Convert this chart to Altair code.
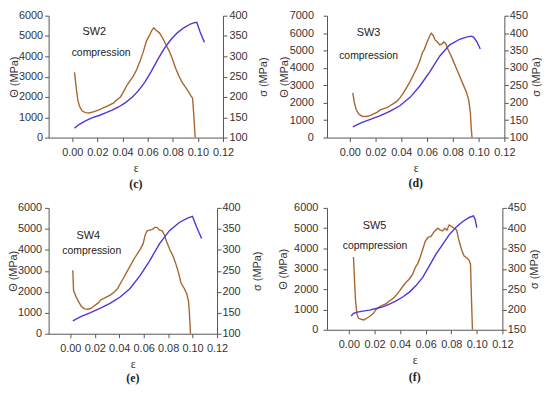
import altair as alt
import pandas as pd

BROWN = "#A8672F"
BLUE = "#4F34D8"
FONT = "Liberation Sans"

X_TICKS = [0.0, 0.02, 0.04, 0.06, 0.08, 0.10, 0.12]

# ---- (c) SW2 ----
c_theta_eps = [0.0018, 0.0031, 0.0044, 0.0057, 0.0078, 0.0104, 0.0135, 0.0174, 0.0213, 0.0252,
               0.0291, 0.033, 0.0356, 0.0382, 0.0408, 0.0434, 0.046, 0.0486, 0.0512, 0.0538,
               0.0564, 0.059, 0.0616, 0.0634, 0.0649, 0.0668, 0.0694, 0.072, 0.0745, 0.0771,
               0.0797, 0.0823, 0.0849, 0.0875, 0.0901, 0.0927, 0.0945, 0.0958, 0.0966, 0.0974, 0.0979]
c_theta = [3215, 2485, 1864, 1553, 1320, 1227, 1211, 1273, 1367, 1475,
           1584, 1708, 1864, 1988, 2252, 2562, 2795, 3028, 3339, 3727,
           4193, 4737, 5047, 5280, 5404, 5280, 5156, 4892, 4581, 4271,
           3883, 3417, 3028, 2718, 2485, 2252, 2050, 1941, 1242, 466, 0]
c_sigma_eps = [0.0018, 0.0057, 0.0109, 0.0161, 0.0213, 0.0265, 0.0317, 0.0369, 0.0421, 0.0473,
               0.0525, 0.0577, 0.0629, 0.068, 0.0732, 0.0784, 0.0836, 0.0888, 0.094, 0.0979,
               0.0992, 0.1018, 0.1052]
c_sigma = [123.3, 132.6, 141.9, 148.9, 154.3, 160.6, 167.5, 175.3, 185.4, 197.8,
           214.9, 235.9, 263, 291.8, 318.9, 340.7, 357.8, 370.2, 379.5, 383.4,
           383.4, 360, 334.5]

# ---- (d) SW3 ----
d_theta_eps = [0.0023, 0.0036, 0.0049, 0.0069, 0.0095, 0.0129, 0.0159, 0.0185, 0.0211, 0.0237,
               0.0262, 0.0288, 0.0314, 0.0339, 0.0365, 0.0391, 0.0416, 0.0442, 0.0468, 0.0494,
               0.0519, 0.0545, 0.0563, 0.0578, 0.0596, 0.0617, 0.0632, 0.0648, 0.0663, 0.0679,
               0.0699, 0.0717, 0.073, 0.0746, 0.0763, 0.0784, 0.0807, 0.0828, 0.0853, 0.0879,
               0.0905, 0.0923, 0.0936, 0.0943, 0.0949]
d_theta = [2563, 1986, 1625, 1354, 1227, 1209, 1264, 1354, 1444, 1588,
           1661, 1715, 1841, 1949, 2076, 2292, 2563, 2888, 3213, 3610,
           3971, 4422, 4874, 5054, 5415, 5776, 5993, 5866, 5596, 5505,
           5325, 5379, 5505, 5379, 5054, 4729, 4332, 3971, 3520, 3069,
           2617, 2166, 1444, 541, 0]
d_sigma_eps = [0.0023, 0.0082, 0.0159, 0.0237, 0.0314, 0.0391, 0.0468, 0.0545, 0.0622, 0.0699,
               0.0776, 0.0853, 0.0905, 0.0943, 0.0961, 0.0987, 0.1013]
d_sigma = [130.7, 141.5, 152.3, 163.1, 175.8, 192, 215.5, 248.8, 289.4, 334.5,
           366.1, 382.3, 388.6, 391.3, 388.6, 375, 354.4]

# ---- (e) SW4 ----
e_theta_eps = [0.0021, 0.0024, 0.0027, 0.0046, 0.0067, 0.0091, 0.0118, 0.0145, 0.0172, 0.0199,
               0.0226, 0.0252, 0.0279, 0.0306, 0.0333, 0.036, 0.0387, 0.0413, 0.044, 0.0467,
               0.0494, 0.0521, 0.0548, 0.0574, 0.0596, 0.0612, 0.0628, 0.065, 0.0671, 0.069,
               0.0709, 0.073, 0.0752, 0.077, 0.0789, 0.0811, 0.0838, 0.0859, 0.0881, 0.0905,
               0.0932, 0.0953, 0.0967, 0.0975, 0.0983]
e_theta = [3029, 2511, 2057, 1782, 1539, 1296, 1183, 1166, 1215, 1345,
           1458, 1620, 1701, 1782, 1863, 1993, 2155, 2430, 2705, 2997,
           3272, 3564, 3807, 4050, 4293, 4698, 4909, 4941, 4973, 5071,
           5071, 4941, 4909, 4698, 4374, 4050, 3726, 3402, 2997, 2430,
           2155, 1895, 1539, 891, 0]
e_sigma_eps = [0.0021, 0.0086, 0.0166, 0.0247, 0.0328, 0.0408, 0.0489, 0.0569, 0.065, 0.073,
               0.0811, 0.0891, 0.0958, 0.0999, 0.1031, 0.1074]
e_sigma = [130.8, 140.6, 150.3, 160.8, 173, 187.6, 207.9, 237.9, 274.4, 314.9,
           345.7, 365.2, 375.7, 379.8, 355.5, 327.1]

# ---- (f) SW5 ----
f_theta_eps = [0.0036, 0.0044, 0.0052, 0.0062, 0.0075, 0.0096, 0.0117, 0.014, 0.0166, 0.0192,
               0.0213, 0.0239, 0.0265, 0.0291, 0.0317, 0.0343, 0.0369, 0.0395, 0.0421, 0.0447,
               0.0473, 0.0499, 0.0519, 0.0538, 0.0556, 0.0577, 0.0597, 0.0618, 0.0642, 0.0668,
               0.0694, 0.0712, 0.0732, 0.0751, 0.0766, 0.0784, 0.0805, 0.0823, 0.0842, 0.0862,
               0.0883, 0.0901, 0.0922, 0.094, 0.0951, 0.0958, 0.0966]
f_theta = [3581, 2420, 1452, 807, 565, 516, 484, 565, 677, 807,
           1000, 1129, 1210, 1290, 1419, 1532, 1694, 1903, 2129, 2339,
           2500, 2742, 3065, 3258, 3549, 3952, 4355, 4549, 4597, 4839,
           5000, 4919, 4871, 5000, 4903, 5161, 5081, 5000, 4919, 4355,
           3903, 3629, 3549, 3420, 3226, 1613, 0]
f_sigma_eps = [0.0018, 0.0036, 0.0057, 0.0109, 0.0161, 0.0213, 0.0265, 0.0317, 0.0369, 0.0421,
               0.0473, 0.0525, 0.0577, 0.0629, 0.068, 0.0732, 0.0784, 0.0836, 0.0888, 0.094,
               0.0974, 0.0987, 0.1]
f_sigma = [183.9, 190.3, 192.7, 195.9, 198.4, 202.4, 206.4, 212.9, 220.9, 230.6,
           242.7, 258.8, 279, 307.2, 335.4, 359.6, 383.7, 401.5, 416, 426.4,
           430.5, 422.4, 401.5]

theta_ticks_6 = [0, 1000, 2000, 3000, 4000, 5000, 6000]
theta_ticks_7 = [0, 1000, 2000, 3000, 4000, 5000, 6000, 7000]
sigma_ticks_400 = [100, 150, 200, 250, 300, 350, 400]
sigma_ticks_450a = [100, 150, 200, 250, 300, 350, 400, 450]
sigma_ticks_450b = [150, 200, 250, 300, 350, 400, 450]


def panel(name, note, cap, eps_t, theta, eps_s, sigma, xdom, tdom, tticks, sdom, sticks,
          w, h, lp, ltp, rlp, rtp, name_xy, note_xy, cap_offset):
    dt = pd.DataFrame({"eps": eps_t, "theta": theta})
    ds = pd.DataFrame({"eps": eps_s, "sigma": sigma})

    def xenc():
        return alt.X("eps:Q",
                     scale=alt.Scale(domain=xdom, nice=False, zero=False),
                     axis=alt.Axis(values=X_TICKS, format=".2f", title="ε",
                                   titleFont="Liberation Serif", titleFontSize=12,
                                   labelPadding=5, titlePadding=5,
                                   labelOverlap=False, labelFlush=False))

    brown = alt.Chart(dt).mark_line(color=BROWN, strokeWidth=1.4).encode(
        x=xenc(),
        y=alt.Y("theta:Q", scale=alt.Scale(domain=tdom, nice=False, zero=False),
                axis=alt.Axis(orient="left", title="Θ (MPa)", values=tticks, format="d",
                              labelPadding=lp, titlePadding=ltp,
                              labelOverlap=False, labelFlush=False)))
    blue = alt.Chart(ds).mark_line(color=BLUE, strokeWidth=1.4).encode(
        x=xenc(),
        y=alt.Y("sigma:Q", scale=alt.Scale(domain=sdom, nice=False, zero=False),
                axis=alt.Axis(orient="right", title="σ (MPa)", values=sticks, format="d",
                              labelPadding=rlp, titlePadding=rtp,
                              labelOverlap=False, labelFlush=False,
                              titleAngle=270, titleBaseline="top")))
    t1 = alt.Chart(pd.DataFrame({"t": [name]})).mark_text(
        font=FONT, fontSize=11, color="#222", align="center", baseline="middle").encode(
        text="t:N", x=alt.value(name_xy[0]), y=alt.value(name_xy[1]))
    t2 = alt.Chart(pd.DataFrame({"t": [note]})).mark_text(
        font=FONT, fontSize=10.5, color="#222", align="center", baseline="middle").encode(
        text="t:N", x=alt.value(note_xy[0]), y=alt.value(note_xy[1]))
    return alt.layer(brown, blue, t1, t2).resolve_scale(y="independent").properties(
        width=w, height=h,
        title=alt.TitleParams(cap, orient="bottom", font="Liberation Serif", fontSize=12,
                              fontWeight="bold", color="#222", offset=cap_offset,
                              frame="group", anchor="middle"))


pc = panel("SW2", "compression", "(c)", c_theta_eps, c_theta, c_sigma_eps, c_sigma,
           [-0.0188, 0.12], [0, 6000], theta_ticks_6, [100, 400], sigma_ticks_400,
           176, 123, 2, -1.5, 2, 11, (46, 16), (53, 38), 6)
pd_ = panel("SW3", "compression", "(d)", d_theta_eps, d_theta, d_sigma_eps, d_sigma,
            [-0.0177, 0.12], [0, 7000], theta_ticks_7, [100, 450], sigma_ticks_450a,
            179, 123, 9.7, -0.7, 1, 3, (42, 17), (42, 41), 5)
pe = panel("SW4", "compression", "(e)", e_theta_eps, e_theta, e_sigma_eps, e_sigma,
           [-0.0177, 0.12], [0, 6000], theta_ticks_6, [100, 400], sigma_ticks_400,
           170, 127, 3, -1.5, 1, 12, (40, 28), (43.5, 44), 4)
pf = panel("SW5", "copmpression", "(f)", f_theta_eps, f_theta, f_sigma_eps, f_sigma,
           [-0.0171, 0.12], [0, 6000], theta_ticks_6, [150, 450], sigma_ticks_450b,
           177, 123, 5.3, 5, 1, 3, (48, 18), (48.5, 38), 7)

chart = alt.vconcat(
    alt.hconcat(pc, pd_, spacing=9),
    alt.hconcat(pe, pf, spacing=14),
    spacing=12,
).properties(padding=0).configure_axis(
    domainColor="#555", tickColor="#555", tickSize=4, grid=False,
    labelFont=FONT, labelFontSize=11, labelColor="#333",
    titleFont=FONT, titleFontSize=11, titleFontWeight="normal", titleColor="#333",
).configure_view(stroke=None)

chart.save("out.html", embed_options={"renderer": "svg", "actions": False})
